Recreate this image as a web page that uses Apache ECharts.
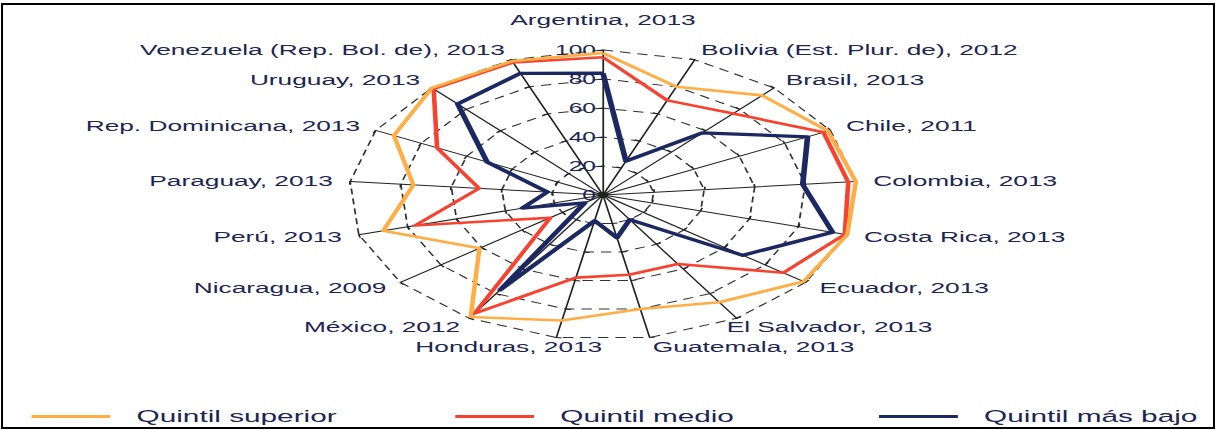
<!DOCTYPE html>
<html>
<head>
<meta charset="utf-8">
<script src="https://cdn.jsdelivr.net/npm/echarts@6/dist/echarts.min.js"></script>
<style>
  body { margin: 0; background: #fff; }
  #wrap { position: relative; width: 1217px; height: 430px; overflow: hidden; background: #fff; }
  #chart { position: absolute; left: 0; top: 0; width: 695px; height: 430px; transform-origin: 0 0; }
  #frame { position: absolute; left: 1px; top: 3px; width: 1214px; height: 426px; box-sizing: border-box; border: 2px solid #000; pointer-events: none; }
</style>
</head>
<body>
<div id="wrap">
  <div id="chart"></div>
  <div id="frame"></div>
</div>
<script>
// countries, clockwise from the top
var countries = ['Argentina, 2013', 'Bolivia (Est. Plur. de), 2012', 'Brasil, 2013', 'Chile, 2011',
    'Colombia, 2013', 'Costa Rica, 2013', 'Ecuador, 2013', 'El Salvador, 2013', 'Guatemala, 2013',
    'Honduras, 2013', 'México, 2012', 'Nicaragua, 2009', 'Perú, 2013', 'Paraguay, 2013',
    'Rep. Dominicana, 2013', 'Uruguay, 2013', 'Venezuela (Rep. Bol. de), 2013'];
var quintilSuperior = [98, 80, 93, 99, 100, 100, 99, 87, 80, 88, 99, 61, 90, 75, 92, 100, 99];
var quintilMedio = [95, 70, 76, 97, 97, 99, 89, 56, 56, 58, 96, 26, 77, 49, 73, 99, 98];
var quintilBajo = [84, 25, 58, 90, 79, 94, 69, 20, 30, 18, 77, 9, 33, 22, 51, 85, 90];
var seriesNames = ['Quintil superior', 'Quintil medio', 'Quintil más bajo'];
var colors = ['#FFAE45', '#F9412F', '#1C2861'];

// the original figure is stretched sideways, so the whole chart is too
var stretch = 1217 / 695;
var font = 'Liberation Sans, Arial, sans-serif';
var textColor = '#1d2553';

// echarts puts radar axes counterclockwise, so reverse the list after the first
var order = [0];
for (var i = countries.length - 1; i > 0; i--) order.push(i);
function pick(arr) {
    return order.map(function(i) { return arr[i]; });
}

// a few names sit off their default spot in the original
var nameStyles = {
    'Argentina, 2013': 'top',
    'Honduras, 2013': 'hon',
    'El Salvador, 2013': 'sal'
};
function nameRich(padding) {
    return { color: textColor, fontFamily: font, fontSize: 15, padding: padding };
}

var dom = document.getElementById('chart');
dom.style.transform = 'scaleX(' + stretch + ')';
var chart = echarts.init(dom, null, { renderer: 'svg' });

var option = {
    animation: false,
    color: colors,
    legend: seriesNames.map(function(name, k) {
        return {
            left: 13 + k * 242,
            top: 403,
            icon: 'rect',
            itemWidth: 45,
            itemHeight: 3,
            data: [name],
            textStyle: {
                color: textColor,
                fontFamily: font,
                fontSize: 17,
                padding: [0, 0, 0, 10]
            }
        };
    }),
    radar: {
        center: [603 / stretch, 195],
        radius: 145,
        startAngle: 90,
        splitNumber: 5,
        shape: 'polygon',
        nameGap: 10,
        indicator: order.map(function(i) {
            var ind = { name: countries[i], min: 0, max: 100 };
            if (i === 0) ind.axisLabel = { show: true };
            return ind;
        }),
        axisName: {
            color: textColor,
            fontFamily: font,
            fontSize: 15,
            formatter: function(name) {
                var key = nameStyles[name];
                return key ? '{' + key + '|' + name + '}' : name;
            },
            rich: {
                top: nameRich([0, 0, 12, 0]),
                hon: nameRich([0, -28, 0, 0]),
                sal: nameRich([0, 0, 0, -11])
            }
        },
        axisLine: { lineStyle: { color: '#222', width: 1 } },
        axisTick: { show: true, length: 3, lineStyle: { color: '#222' } },
        axisLabel: { show: false, color: textColor, fontFamily: font, fontSize: 14, margin: 4 },
        splitLine: { lineStyle: { color: '#333', width: 1, type: [6, 4] } },
        splitArea: { show: false }
    },
    series: [quintilSuperior, quintilMedio, quintilBajo].map(function(vals, k) {
        return {
            type: 'radar',
            name: seriesNames[k],
            symbol: 'none',
            z: 3 - k,
            lineStyle: { width: k === 2 ? 3.2 : 2.6, color: colors[k] },
            data: [{ name: seriesNames[k], value: pick(vals) }]
        };
    })
};
chart.setOption(option);
</script>
</body>
</html>
